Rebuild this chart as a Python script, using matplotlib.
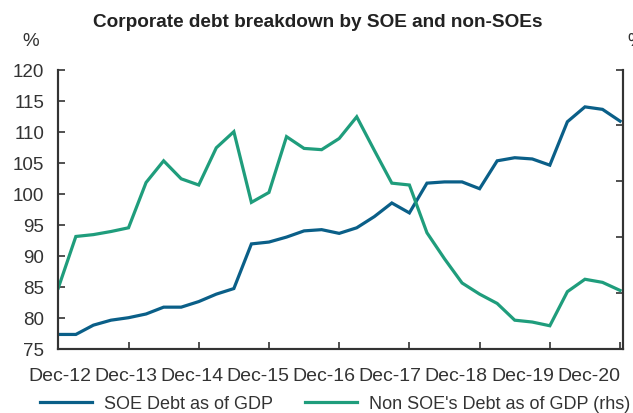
import matplotlib
matplotlib.use("Agg")
import matplotlib.pyplot as plt
import numpy as np

plt.rcParams['font.family'] = ['Liberation Sans', 'DejaVu Sans']

# quarterly, Dec-12 .. Dec-20
years = ["Dec-12", "Dec-13", "Dec-14", "Dec-15", "Dec-16",
         "Dec-17", "Dec-18", "Dec-19", "Dec-20"]
soe = [77.3, 77.3, 78.8, 79.6, 80.0, 80.6, 81.7, 81.7, 82.6, 83.8, 84.7,
       91.9, 92.2, 93.0, 94.0, 94.2, 93.6, 94.5, 96.3, 98.5, 96.9,
       101.7, 101.9, 101.9, 100.8, 105.3, 105.8, 105.6, 104.6,
       111.6, 114.0, 113.6, 111.7]
# non-SOE, drawn on the rhs axis (read against left scale)
non_soe = [84.8, 93.1, 93.4, 93.9, 94.5, 101.8, 105.3, 102.4, 101.4, 107.4,
           110.0, 98.6, 100.2, 109.2, 107.3, 107.1, 108.9, 112.4, 107.0,
           101.7, 101.4, 93.7, 89.5, 85.6, 83.8, 82.3, 79.6, 79.3, 78.7,
           84.2, 86.2, 85.7, 84.4]

blue = "#0a5f88"
green = "#1f9d7c"
txt = "#333333"

x = np.arange(len(soe))

fig = plt.figure(figsize=(6.33, 4.14), dpi=100)
ax = fig.add_axes([0.0921, 0.1553, 0.8916, 0.674])
ax2 = ax.twinx()

l1, = ax.plot(x, soe, color=blue, lw=2.3, solid_joinstyle='miter')
l2, = ax2.plot(x, non_soe, color=green, lw=2.3, solid_joinstyle='miter')

ax.set_xlim(0, 32.15)
ax.set_ylim(75, 120)
ax2.set_ylim(75, 120)
ax.set_yticks(np.arange(75, 121, 5))
ax2.set_yticks(np.linspace(75, 120, 6))
ax2.set_yticklabels([])

ax.set_xticks(np.arange(0, 33, 4))
ax.set_xticklabels([])
ax.set_xticks(np.linspace(0.1, 30.2, len(years)), minor=True)
ax.set_xticklabels(years, minor=True)
ax.tick_params(axis='x', which='minor', length=0, pad=13,
               labelsize=14, labelcolor=txt)
ax.tick_params(axis='x', which='major', direction='in', length=5,
               width=1.2, color=txt)
ax.tick_params(axis='y', direction='in', length=5, width=1.2, color=txt,
               labelsize=13.5, labelcolor=txt, pad=10)
ax2.tick_params(axis='y', direction='in', length=5, width=1.2, color=txt)

for a in (ax, ax2):
    a.spines['top'].set_visible(False)
    for s in ('left', 'right', 'bottom'):
        a.spines[s].set_color(txt)
        a.spines[s].set_linewidth(1.5)

fig.text(0.502, 0.945, "Corporate debt breakdown by SOE and non-SOEs",
         ha='center', va='center', fontsize=13.7, fontweight='bold', color="#222222")
fig.text(31 / 633, 1 - 41 / 414, "%", ha='center', va='center',
         fontsize=13.5, color=txt)
fig.text(627 / 633, 1 - 41 / 414, "%", ha='left', va='center',
         fontsize=13.5, color=txt)

fig.legend([l1, l2], ["SOE Debt as of GDP", "Non SOE's Debt as of GDP (rhs)"],
           loc='center left', bbox_to_anchor=(40 / 633, 1 - 405 / 414),
           ncol=2, frameon=False, fontsize=13, handlelength=2.9,
           handletextpad=0.65, columnspacing=1.75, borderpad=0,
           borderaxespad=0, labelcolor=txt)

fig.savefig("out.png", dpi=100)
